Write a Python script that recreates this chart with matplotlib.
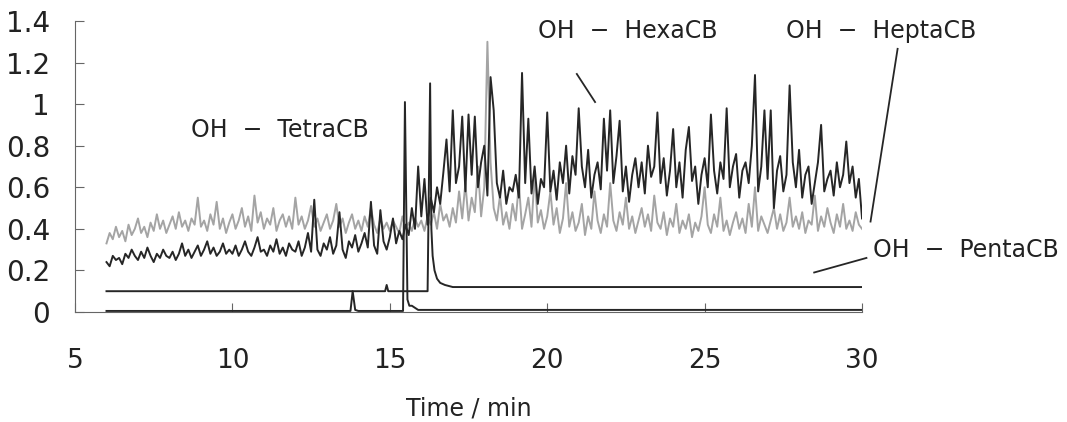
import numpy as np
import matplotlib
matplotlib.use("Agg")
import matplotlib.pyplot as plt

plt.rcParams['font.family'] = ['DejaVu Sans']

# ---------- data ----------
# noisy traces sampled every 0.1 min from 6.0 to 30.0
t_noisy = np.round(np.arange(6.0, 30.0001, 0.1), 1)

hexa_cb = [
    0.24, 0.22, 0.27, 0.25, 0.26, 0.23, 0.28, 0.26, 0.30, 0.27,
    0.25, 0.29, 0.26, 0.31, 0.27, 0.24, 0.28, 0.26, 0.30, 0.27,
    0.26, 0.29, 0.25, 0.28, 0.33, 0.27, 0.30, 0.26, 0.29, 0.32,
    0.27, 0.30, 0.34, 0.28, 0.31, 0.27, 0.29, 0.33, 0.28, 0.30,
    0.28, 0.32, 0.27, 0.30, 0.34, 0.29, 0.27, 0.31, 0.36, 0.29,
    0.30, 0.27, 0.32, 0.29, 0.35, 0.28, 0.31, 0.27, 0.33, 0.30,
    0.29, 0.34, 0.27, 0.31, 0.38, 0.29, 0.54, 0.30, 0.27, 0.33,
    0.30, 0.36, 0.28, 0.32, 0.48, 0.30, 0.26, 0.34, 0.31, 0.37,
    0.29, 0.33, 0.38, 0.31, 0.53, 0.32, 0.28, 0.49, 0.34, 0.30,
    0.36, 0.45, 0.33, 0.39, 0.35, 0.42, 0.37, 0.50, 0.40, 0.70,
    0.46, 0.64, 0.42, 0.55, 0.48, 0.60, 0.52, 0.67, 0.83, 0.58,
    0.97, 0.62, 0.70, 0.94, 0.58, 0.95, 0.66, 0.94, 0.60, 0.72,
    0.80, 0.56, 1.13, 0.97, 0.62, 0.55, 0.68, 0.52, 0.60, 0.58,
    0.66, 0.55, 1.15, 0.62, 0.93, 0.57, 0.70, 0.52, 0.64, 0.60,
    0.96, 0.58, 0.68, 0.54, 0.72, 0.62, 0.80, 0.57, 0.75, 0.66,
    0.98, 0.70, 0.60, 0.78, 0.55, 0.66, 0.72, 0.59, 0.93, 0.68,
    0.97, 0.62, 0.75, 0.92, 0.58, 0.70, 0.53, 0.66, 0.74, 0.60,
    0.72, 0.57, 0.80, 0.65, 0.70, 0.96, 0.62, 0.74, 0.56, 0.68,
    0.88, 0.60, 0.72, 0.55, 0.78, 0.89, 0.63, 0.70, 0.52, 0.66,
    0.74, 0.60, 0.95, 0.68, 0.57, 0.72, 0.64, 0.98, 0.60, 0.70,
    0.76, 0.55, 0.68, 0.72, 0.62, 0.80, 1.14, 0.58, 0.70, 0.97,
    0.64, 0.97, 0.50, 0.68, 0.75, 0.58, 0.66, 1.09, 0.72, 0.60,
    0.78, 0.55, 0.66, 0.70, 0.52, 0.62, 0.72, 0.90, 0.58, 0.64,
    0.68, 0.56, 0.72, 0.60, 0.66, 0.82, 0.62, 0.70, 0.55, 0.64,
    0.45,
]

hepta_cb = [
    0.33, 0.38, 0.35, 0.41, 0.36, 0.39, 0.34, 0.42, 0.37, 0.40,
    0.45, 0.38, 0.41, 0.36, 0.43, 0.39, 0.47, 0.40, 0.44, 0.38,
    0.42, 0.46, 0.40, 0.48, 0.41, 0.44, 0.39, 0.45, 0.42, 0.55,
    0.41, 0.44, 0.39, 0.47, 0.42, 0.53, 0.40, 0.45, 0.38, 0.43,
    0.47, 0.40, 0.44, 0.50, 0.41, 0.46, 0.39, 0.56, 0.43, 0.48,
    0.40, 0.45, 0.42, 0.50, 0.39, 0.44, 0.47, 0.41, 0.46, 0.40,
    0.55, 0.42, 0.46, 0.40, 0.44, 0.51, 0.41, 0.45, 0.39, 0.43,
    0.47, 0.40, 0.44, 0.52, 0.41, 0.45, 0.38, 0.43, 0.47, 0.40,
    0.44, 0.39, 0.46, 0.41, 0.50, 0.42, 0.38, 0.45, 0.40, 0.43,
    0.39, 0.44, 0.41, 0.38, 0.46, 0.40, 0.43, 0.39, 0.45, 0.41,
    0.44, 0.39, 0.46, 0.42, 0.48, 0.40, 0.52, 0.44, 0.47, 0.41,
    0.50, 0.43, 0.58, 0.45, 0.62, 0.44, 0.55, 0.48, 0.70, 0.46,
    0.60, 1.30, 0.72, 0.50, 0.44, 0.56, 0.42, 0.48, 0.40, 0.52,
    0.44, 0.62, 0.40, 0.47, 0.55, 0.41, 0.66, 0.43, 0.49, 0.40,
    0.46, 0.58, 0.42, 0.50, 0.38, 0.45, 0.62, 0.41, 0.48, 0.39,
    0.43, 0.52, 0.37, 0.46, 0.40, 0.58, 0.44, 0.38, 0.47, 0.41,
    0.62, 0.44, 0.39, 0.48, 0.42, 0.55, 0.40, 0.46, 0.38, 0.44,
    0.50, 0.41, 0.47, 0.39, 0.56, 0.43, 0.40, 0.48, 0.37, 0.45,
    0.41, 0.52, 0.38, 0.44, 0.40, 0.47, 0.36, 0.43, 0.39, 0.46,
    0.60, 0.42, 0.38, 0.47, 0.41, 0.55, 0.39, 0.44, 0.37, 0.43,
    0.48, 0.40, 0.45, 0.38, 0.52, 0.41, 0.60, 0.39, 0.46, 0.42,
    0.38, 0.44, 0.50, 0.40, 0.47, 0.39, 0.43, 0.55, 0.41, 0.46,
    0.40, 0.48, 0.38, 0.44, 0.42, 0.56, 0.39, 0.46, 0.41, 0.50,
    0.43, 0.38, 0.47, 0.41, 0.52, 0.40, 0.44, 0.39, 0.48, 0.42,
    0.40,
]

penta_t = [6.0, 9.0, 12.0, 14.0, 14.85, 14.9, 14.95, 15.9, 16.2, 16.28,
           16.32, 16.36, 16.42, 16.5, 16.6, 16.75, 17.0, 20.0, 24.0, 28.0, 30.0]
penta_cb = [0.10, 0.10, 0.10, 0.10, 0.10, 0.13, 0.10, 0.10, 0.10, 1.10,
            0.40, 0.27, 0.20, 0.16, 0.14, 0.13, 0.12, 0.12, 0.12, 0.12, 0.12]

tetra_t = [6.0, 10.0, 13.0, 13.75, 13.82, 13.9, 14.0, 15.0, 15.42, 15.48,
           15.56, 15.62, 15.7, 15.8, 15.9, 16.2, 20.0, 25.0, 30.0]
tetra_cb = [0.005, 0.005, 0.005, 0.005, 0.10, 0.01, 0.005, 0.005, 0.005, 1.01,
            0.06, 0.03, 0.03, 0.02, 0.01, 0.01, 0.01, 0.01, 0.01]

x_ticks = [5, 10, 15, 20, 25, 30]
y_ticks = [0, 0.2, 0.4, 0.6, 0.8, 1.0, 1.2, 1.4]
y_labels = ['0', '0.2', '0.4', '0.6', '0.8', '1', '1.2', '1.4']

# label text, text position, leader line (x0, y0, x1, y1) or None
labels = [
    ('OH  −  TetraCB', (8.7, 0.875), None),
    ('OH  −  HexaCB', (19.7, 1.35), (20.94, 1.145, 21.52, 1.01)),
    ('OH  −  HeptaCB', (27.6, 1.35), (31.13, 1.266, 30.27, 0.435)),
    ('OH  −  PentaCB', (30.35, 0.30), (30.14, 0.26, 28.48, 0.19)),
]

# ---------- figure ----------
fig = plt.figure(figsize=(10.67, 4.22), dpi=100)
ax = fig.add_axes([0.0703, 0.2607, 0.7376, 0.6896])

dark = '#262626'
ax.plot(t_noisy, hepta_cb, color='#a4a4a4', lw=1.4)
ax.plot(t_noisy, hexa_cb, color=dark, lw=1.4)
ax.plot(penta_t, penta_cb, color=dark, lw=1.4)
ax.plot(tetra_t, tetra_cb, color=dark, lw=1.4)

ax.set_xlim(5, 30)
ax.set_ylim(0, 1.4)
ax.set_xticks(x_ticks)
ax.set_yticks(y_ticks)
ax.set_yticklabels(y_labels)

for side in ['top', 'right']:
    ax.spines[side].set_visible(False)
for side in ['left', 'bottom']:
    ax.spines[side].set_color('#666666')
    ax.spines[side].set_linewidth(0.8)

ax.tick_params(axis='x', direction='in', length=6.5, width=0.8, color='#666666',
               pad=26, labelsize=19, labelcolor='#222222')
ax.tick_params(axis='y', direction='in', length=6.5, width=0.8, color='#666666',
               pad=18, labelsize=20, labelcolor='#222222')

ax.set_xlabel('Time / min', fontsize=17, color='#222222', labelpad=16)

for text, pos, line in labels:
    ax.text(pos[0], pos[1], text, fontsize=17, color='#222222',
            ha='left', va='center', clip_on=False)
    if line is not None:
        ax.plot([line[0], line[2]], [line[1], line[3]], color=dark, lw=1.3,
                clip_on=False)

fig.savefig('out.png', dpi=100)
